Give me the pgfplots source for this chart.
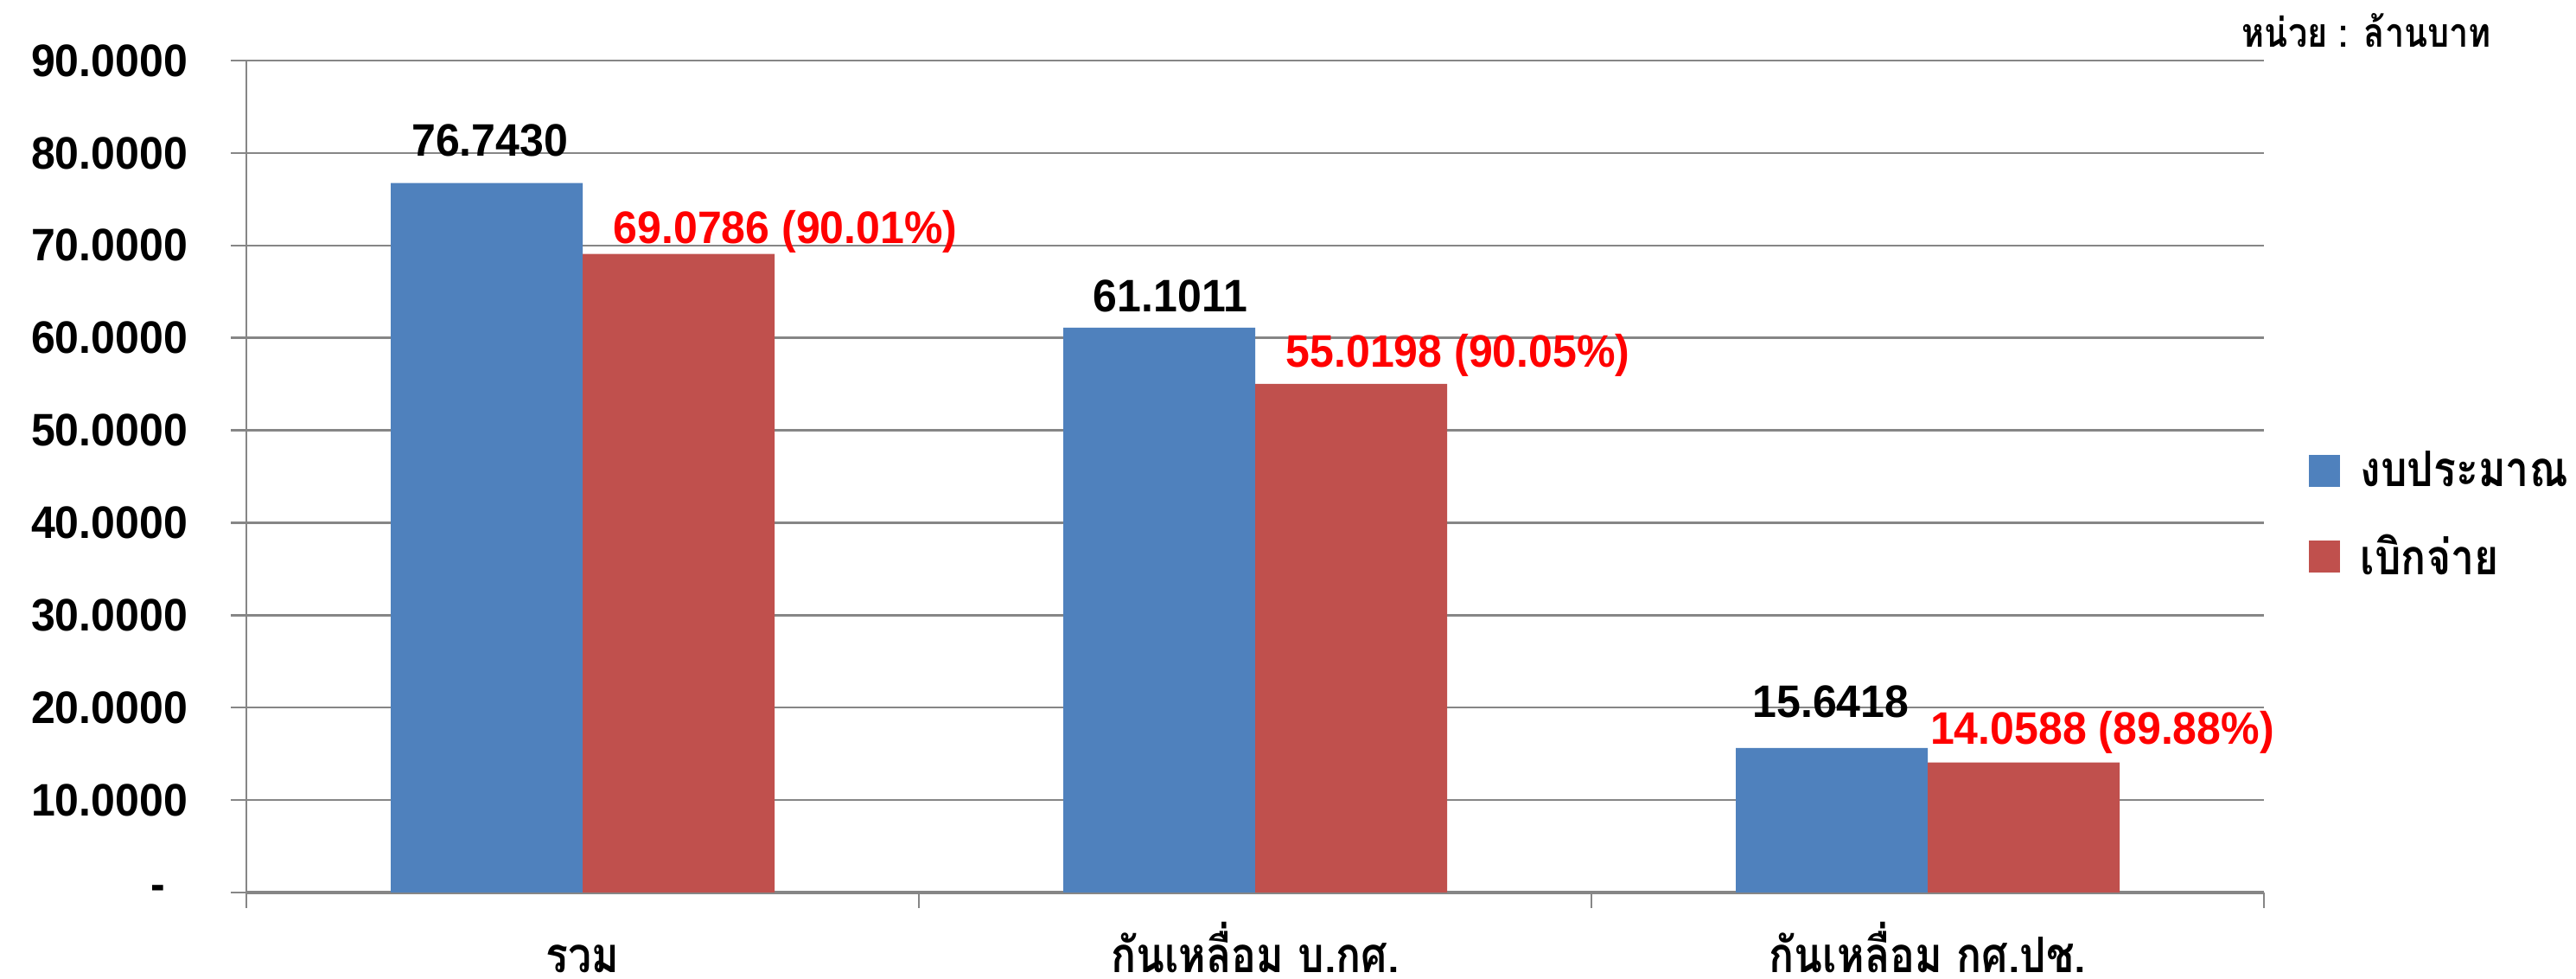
\documentclass[border=0pt]{standalone}
\usepackage{pgfplots}
\pgfplotsset{compat=1.18}
\usepackage{pgfplotstable}
\usepackage{fontspec}
\setmainfont{Liberation Sans}[FakeStretch=0.95]
\newfontfamily\thaifont[Script=Thai,FakeStretch=0.85]{Loma}
\definecolor{barblue}{HTML}{4F81BD}
\definecolor{barred}{HTML}{C0504D}
\definecolor{gridgray}{HTML}{868686}
\definecolor{labelred}{HTML}{FF0000}
\newcommand\numfont{\fontsize{15.8}{19}\selectfont\bfseries}
\newcommand\thfont{\thaifont\fontsize{17}{21}\selectfont\bfseries}
\newcommand\thunit{\thaifont\fontsize{14}{17}\selectfont\bfseries}

\pgfplotstableread{
x y
0.5 76.7430
1.5 61.1011
2.5 15.6418
}\budget
\pgfplotstableread{
x y
0.5 69.0786
1.5 55.0198
2.5 14.0588
}\spent

\begin{document}
\begin{tikzpicture}
\begin{axis}[
  scale only axis, width=700.2pt, height=288.6pt,
  at={(0,0)}, anchor=south west,
  xmin=0, xmax=3, ymin=0, ymax=90,
  axis x line*=bottom, axis y line*=left,
  axis line style={gridgray},
  x axis line style={line width=1pt},
  y axis line style={line width=0.6pt},
  ytick={0,10,20,30,40,50,60,70,80,90},
  yticklabels={{-\hspace*{7.8pt}},10.0000,20.0000,30.0000,40.0000,50.0000,60.0000,70.0000,80.0000,90.0000},
  ymajorgrids, grid style={gridgray, line width=0.75pt},
  tick align=outside, major tick length=5.4pt, minor tick length=5.4pt,
  ytick style={gridgray, line width=0.75pt},
  xtick={0.5,1.5,2.5},
  xticklabels={รวม,กันเหลื่อม บ.กศ.,กันเหลื่อม กศ.ปช.},
  major x tick style={draw=none},
  minor xtick={0,1,2,3},
  minor x tick style={gridgray, line width=0.6pt},
  xticklabel style={font=\thfont, anchor=base, yshift=-22.5pt},
  yticklabel style={font=\numfont, anchor=east, inner sep=0pt, xshift=-14.8pt},
  legend style={at={(1.0219,0.538)}, anchor=north west, draw=none, fill=none,
    inner sep=0pt, row sep=11pt, column sep=5pt, font=\thfont},
  legend cell align=left,
  clip=false,
]
\addplot[ybar, bar width=66.6pt, bar shift=-33.3pt, fill=barblue, draw=none,
  legend image code/.code={\fill[barblue] (0pt,-5.5pt) rectangle (11pt,5.5pt);}]
  table[x=x,y=y] {\budget};
\addlegendentry{งบประมาณ}
\addplot[ybar, bar width=66.6pt, bar shift=33.3pt, fill=barred, draw=none,
  legend image code/.code={\fill[barred] (0pt,-5.5pt) rectangle (11pt,5.5pt);}]
  table[x=x,y=y] {\spent};
\addlegendentry{เบิกจ่าย}

\node[anchor=base, font=\numfont, inner sep=0pt] at (axis cs:0.362,79.7) {76.7430};
\node[anchor=base, font=\numfont, inner sep=0pt] at (axis cs:1.374,62.85) {61.1011};
\node[anchor=base, font=\numfont, inner sep=0pt] at (axis cs:2.356,18.97) {15.6418};
\node[anchor=base west, font=\numfont, text=labelred, inner sep=0pt] at (axis cs:0.545,70.25) {69.0786 (90.01\%)};
\node[anchor=base west, font=\numfont, text=labelred, inner sep=0pt] at (axis cs:1.545,56.85) {55.0198 (90.05\%)};
\node[anchor=base west, font=\numfont, text=labelred, inner sep=0pt] at (axis cs:2.503,16.03) {14.0588 (89.88\%)};
\node[anchor=base west, font=\thunit, inner sep=0pt] at (rel axis cs:0.9889,1.0156) {หน่วย : ล้านบาท};
\end{axis}
\pgfresetboundingbox
\path (-85.5pt,-30pt) rectangle (808.5pt,309.6pt);
\end{tikzpicture}
\end{document}
